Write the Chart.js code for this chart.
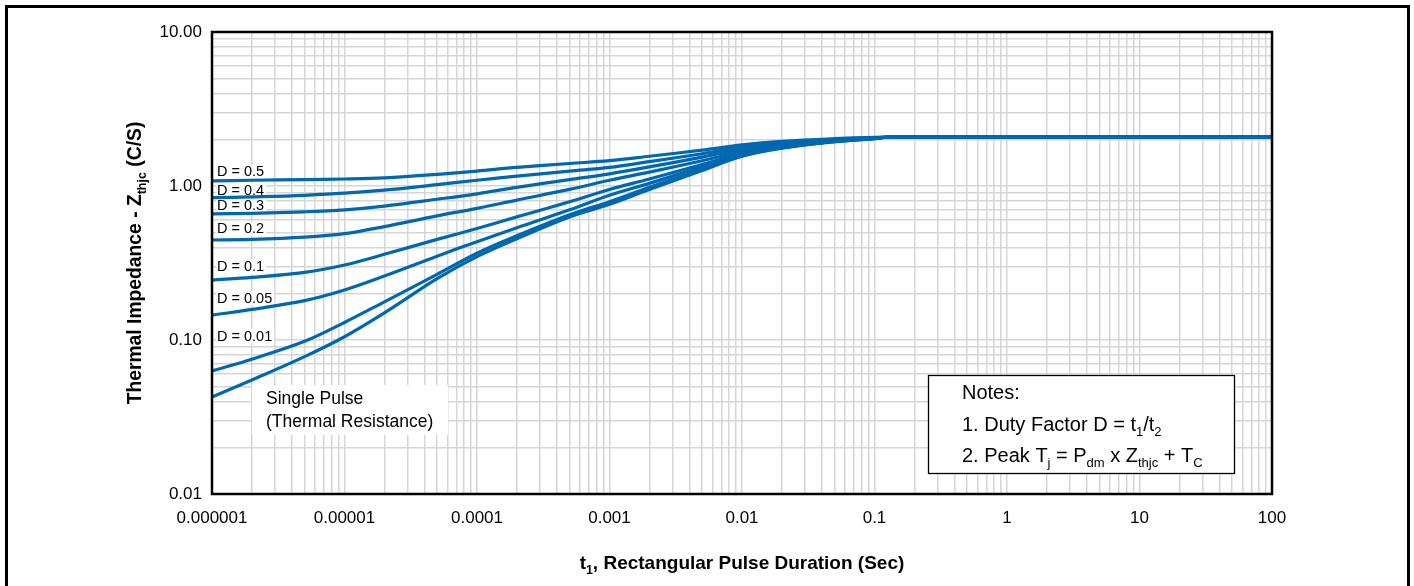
<!DOCTYPE html>
<html>
<head>
<meta charset="utf-8">
<title>Transient Thermal Impedance</title>
<script src="https://cdn.jsdelivr.net/npm/chart.js@4.4.1/dist/chart.umd.min.js"></script>
<style>
  html, body { margin: 0; padding: 0; background: #fff; }
  body { width: 1414px; height: 586px; overflow: hidden; position: relative; }
  .frame { position: absolute; left: 5px; top: 5px; width: 1399px; height: 700px; border: 3px solid #000; }
  #chart { position: absolute; left: 0; top: 0; }
</style>
</head>
<body>
<div class="frame"></div>
<canvas id="chart" width="1414" height="586"></canvas>
<script>
// pulse duration t1 (s)
const pulseTimes = [1e-6, 2e-6, 5e-6, 1e-5, 2e-5, 5e-5, 1e-4, 2e-4, 5e-4, 1e-3,
                    2e-3, 5e-3, 1e-2, 2e-2, 5e-2, 0.1, 0.13, 1, 10, 100];

// Zthjc (C/W) per duty factor
const zD050 = [1.08, 1.09, 1.10, 1.11, 1.13, 1.19, 1.25, 1.32, 1.40, 1.46, 1.56, 1.71, 1.85, 1.95, 2.03, 2.07, 2.08, 2.08, 2.08, 2.08];
const zD040 = [0.84, 0.85, 0.87, 0.90, 0.94, 1.02, 1.09, 1.16, 1.25, 1.32, 1.44, 1.62, 1.79, 1.91, 2.01, 2.06, 2.08, 2.08, 2.08, 2.08];
const zD030 = [0.66, 0.665, 0.68, 0.70, 0.74, 0.82, 0.89, 0.98, 1.10, 1.20, 1.33, 1.54, 1.73, 1.87, 2.00, 2.05, 2.08, 2.08, 2.08, 2.08];
const zD020 = [0.446, 0.45, 0.465, 0.49, 0.545, 0.64, 0.716, 0.81, 0.95, 1.09, 1.23, 1.46, 1.67, 1.83, 1.98, 2.05, 2.08, 2.08, 2.08, 2.08];
const zD010 = [0.245, 0.255, 0.275, 0.307, 0.36, 0.45, 0.53, 0.63, 0.79, 0.95, 1.11, 1.38, 1.62, 1.80, 1.96, 2.04, 2.08, 2.08, 2.08, 2.08];
const zD005 = [0.145, 0.158, 0.18, 0.211, 0.26, 0.35, 0.435, 0.535, 0.70, 0.87, 1.04, 1.33, 1.59, 1.78, 1.95, 2.04, 2.08, 2.08, 2.08, 2.08];
const zD001 = [0.063, 0.075, 0.098, 0.130, 0.177, 0.267, 0.366, 0.475, 0.65, 0.79, 0.98, 1.28, 1.57, 1.77, 1.94, 2.03, 2.08, 2.08, 2.08, 2.08];
const zSingle = [0.0426, 0.055, 0.078, 0.105, 0.15, 0.25, 0.348, 0.455, 0.63, 0.76, 0.95, 1.26, 1.56, 1.76, 1.94, 2.03, 2.08, 2.08, 2.08, 2.08];

const seriesNames = ['D = 0.5', 'D = 0.4', 'D = 0.3', 'D = 0.2', 'D = 0.1', 'D = 0.05', 'D = 0.01', 'Single Pulse'];
const seriesValues = [zD050, zD040, zD030, zD020, zD010, zD005, zD001, zSingle];

// tick labels
const xDecades = [1e-6, 1e-5, 1e-4, 1e-3, 1e-2, 0.1, 1, 10, 100];
const xTickLabels = ['0.000001', '0.00001', '0.0001', '0.001', '0.01', '0.1', '1', '10', '100'];
const yDecades = [0.01, 0.1, 1, 10];
const yTickLabels = ['0.01', '0.10', '1.00', '10.00'];

const FONT = '"Liberation Sans", Arial, Helvetica, sans-serif';
const BLUE = '#0068b1';

// 1..9 per decade for the grid
function logTicks(decades) {
    const out = [];
    decades.forEach((d, i) => {
        if (i === decades.length - 1) {
            out.push({ value: d });
            return;
        }
        for (let k = 1; k <= 9; k++) out.push({ value: +(d * k).toPrecision(3) });
    });
    return out;
}

function tickLabel(decades, labels, value) {
    const i = decades.findIndex(d => Math.abs(d - value) / d < 1e-6);
    return i >= 0 ? labels[i] : '';
}

// text with subscripts
function drawRuns(ctx, runs, x, y, size, weight, align) {
    const parts = runs.map(r => {
        const s = r.sub ? size * 0.65 : size;
        ctx.font = `${weight} ${s}px ${FONT}`;
        return { text: r.t, sub: r.sub, size: s, w: ctx.measureText(r.t).width };
    });
    const total = parts.reduce((a, p) => a + p.w, 0);
    let cx = align === 'center' ? x - total / 2 : x;
    parts.forEach(p => {
        ctx.font = `${weight} ${p.size}px ${FONT}`;
        ctx.fillText(p.text, cx, p.sub ? y + size * 0.26 : y);
        cx += p.w;
    });
    return total;
}

// curve labels, anchored at the left edge, y in data units
const curveLabels = [
    { text: 'D = 0.5', at: 1.24 },
    { text: 'D = 0.4', at: 0.94 },
    { text: 'D = 0.3', at: 0.742 },
    { text: 'D = 0.2', at: 0.528 },
    { text: 'D = 0.1', at: 0.298 },
    { text: 'D = 0.05', at: 0.187 },
    { text: 'D = 0.01', at: 0.106 }
];

const annotations = {
    id: 'annotations',
    beforeDatasetsDraw(chart) {
        const { ctx, chartArea, scales } = chart;
        ctx.save();
        ctx.textBaseline = 'middle';
        ctx.font = `14.5px ${FONT}`;
        curveLabels.forEach(l => {
            const y = scales.y.getPixelForValue(l.at);
            const x = chartArea.left + 5;
            const w = ctx.measureText(l.text).width;
            ctx.fillStyle = '#fff';
            ctx.fillRect(x - 1, y - 7, w + 3, 14);
            ctx.fillStyle = '#000';
            ctx.fillText(l.text, x, y + 0.5);
        });

        // single pulse note
        const bx = chartArea.left + 40, by = chartArea.top + 353;
        ctx.fillStyle = '#fff';
        ctx.fillRect(bx, by, 196, 50);
        ctx.fillStyle = '#000';
        ctx.font = `17.5px ${FONT}`;
        ctx.fillText('Single Pulse', chartArea.left + 54, chartArea.top + 367);
        ctx.fillText('(Thermal Resistance)', chartArea.left + 54, chartArea.top + 390);
        ctx.restore();
    },
    afterDraw(chart) {
        const { ctx, chartArea } = chart;
        ctx.save();
        // plot frame
        ctx.strokeStyle = '#000';
        ctx.lineWidth = 2.5;
        ctx.strokeRect(chartArea.left, chartArea.top, chartArea.right - chartArea.left, chartArea.bottom - chartArea.top);

        // notes box
        ctx.fillStyle = '#fff';
        ctx.fillRect(928.5, 375.5, 306, 98);
        ctx.lineWidth = 1.3;
        ctx.strokeRect(928.5, 375.5, 306, 98);
        ctx.fillStyle = '#000';
        ctx.textBaseline = 'alphabetic';
        drawRuns(ctx, [{ t: 'Notes:' }], 962, 399, 20, 'normal', 'left');
        drawRuns(ctx, [{ t: '1. Duty Factor D = t' }, { t: '1', sub: true }, { t: '/t' }, { t: '2', sub: true }],
            962, 431, 20, 'normal', 'left');
        drawRuns(ctx, [{ t: '2. Peak T' }, { t: 'j', sub: true }, { t: ' = P' }, { t: 'dm', sub: true },
            { t: ' x Z' }, { t: 'thjc', sub: true }, { t: ' + T' }, { t: 'C', sub: true }],
            962, 462, 20, 'normal', 'left');

        // axis titles
        const midX = (chartArea.left + chartArea.right) / 2;
        drawRuns(ctx, [{ t: 't' }, { t: '1', sub: true }, { t: ', Rectangular Pulse Duration (Sec)' }],
            midX, 569, 19, 'bold', 'center');
        ctx.translate(141, (chartArea.top + chartArea.bottom) / 2);
        ctx.rotate(-Math.PI / 2);
        drawRuns(ctx, [{ t: 'Thermal Impedance - Z' }, { t: 'thjc', sub: true }, { t: ' (C/S)' }],
            0, 0, 19.3, 'bold', 'center');
        ctx.restore();
    }
};

const datasets = seriesNames.map((name, i) => ({
    label: name,
    data: pulseTimes.map((t, k) => ({ x: t, y: seriesValues[i][k] })),
    borderColor: BLUE,
    borderWidth: 3.2,
    pointRadius: 0,
    tension: 0.35,
    fill: false
}));

new Chart(document.getElementById('chart'), {
    type: 'line',
    data: { datasets },
    options: {
        responsive: false,
        animation: false,
        devicePixelRatio: 1,
        layout: { padding: { left: 0, top: 32, right: 142, bottom: 0 } },
        plugins: {
            legend: { display: false },
            tooltip: { enabled: false }
        },
        scales: {
            x: {
                type: 'logarithmic',
                min: 1e-6,
                max: 100,
                afterBuildTicks: (scale) => { scale.ticks = logTicks(xDecades); },
                afterFit: (scale) => { scale.height = 92; },
                grid: { color: '#d6d6d6', lineWidth: 1.5, drawTicks: false },
                border: { display: false },
                ticks: {
                    autoSkip: false,
                    maxRotation: 0,
                    padding: 14,
                    color: '#000',
                    font: { family: FONT, size: 17 },
                    callback: (v) => tickLabel(xDecades, xTickLabels, v)
                }
            },
            y: {
                type: 'logarithmic',
                min: 0.01,
                max: 10,
                afterBuildTicks: (scale) => { scale.ticks = logTicks(yDecades); },
                afterFit: (scale) => { scale.width = 212; },
                grid: { color: '#d6d6d6', lineWidth: 1.5, drawTicks: false },
                border: { display: false },
                ticks: {
                    autoSkip: false,
                    padding: 10,
                    color: '#000',
                    font: { family: FONT, size: 17 },
                    callback: (v) => tickLabel(yDecades, yTickLabels, v)
                }
            }
        }
    },
    plugins: [annotations]
});
</script>
</body>
</html>
